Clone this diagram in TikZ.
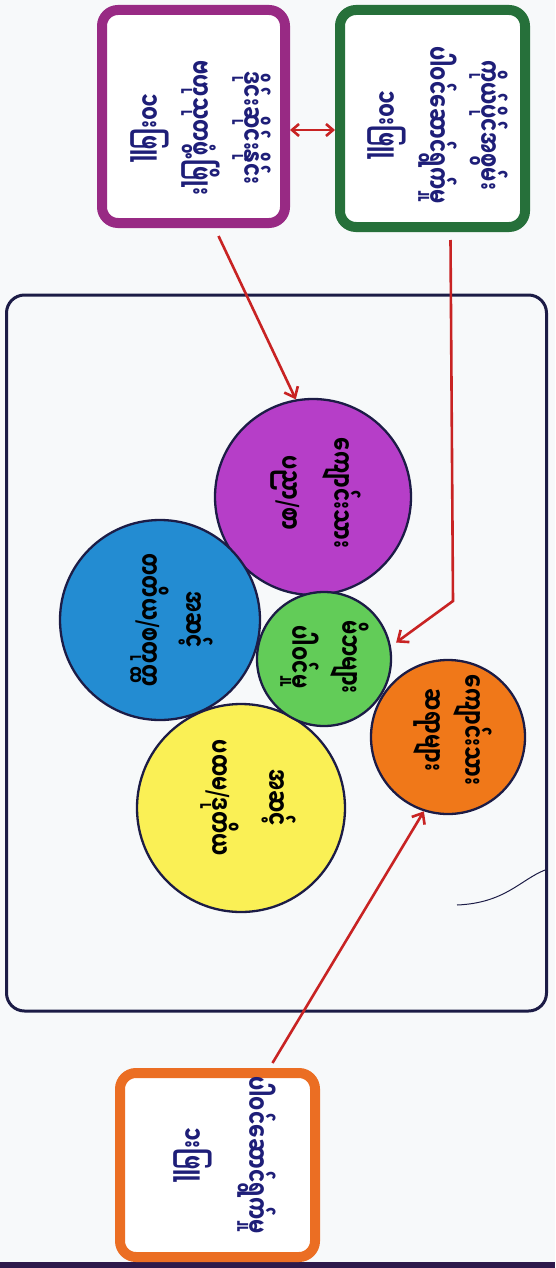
\documentclass[tikz,border=0pt]{standalone}
\usepackage{fontspec}
\usepackage{graphicx}
\newfontfamily\mym[Script=Myanmar]{Noto Sans Myanmar UI}
\newfontfamily\lat{DejaVu Sans}
\usetikzlibrary{arrows.meta}
\definecolor{paper}{RGB}{247,249,250}
\definecolor{band}{RGB}{45,25,75}
\definecolor{ink}{RGB}{28,28,70}
\definecolor{txt}{RGB}{30,30,120}
\definecolor{pboxc}{RGB}{152,42,132}
\definecolor{gboxc}{RGB}{38,112,58}
\definecolor{oboxc}{RGB}{235,110,35}
\definecolor{arrowred}{RGB}{200,35,35}
\definecolor{cpurple}{RGB}{182,62,200}
\definecolor{cblue}{RGB}{35,140,210}
\definecolor{cgreen}{RGB}{98,204,88}
\definecolor{corange}{RGB}{240,120,25}
\definecolor{cyellow}{RGB}{250,240,85}
\newcommand{\myslash}{{\lat /}}
\newcommand{\tall}[1]{\scalebox{1}[1.45]{#1}}
\tikzset{
  boxnode/.style={draw=#1, rounded corners=16pt, line width=10pt, fill=white, inner sep=0pt},
  circ/.style={circle, draw=ink, line width=2.3pt, inner sep=0pt, fill=#1},
  lbl/.style={rotate=-90, align=center, text=txt, inner sep=0pt},
  arr/.style={draw=arrowred, line width=2.6pt, -{Straight Barb[length=9pt,width=15pt]}},
  darr/.style={draw=arrowred, line width=2.6pt, {Straight Barb[length=7pt,width=12pt]}-{Straight Barb[length=7pt,width=12pt]}}
}
\begin{document}
\begin{tikzpicture}[x=1pt,y=-1pt]
\useasboundingbox (0,0) rectangle (555,1268);
\fill[paper] (0,0) rectangle (555,1268);
\fill[band] (0,1262) rectangle (555,1268);

% outer frame
\node[draw=ink, line width=3pt, rounded corners=18pt, minimum width=540pt, minimum height=716pt, inner sep=0pt] (frame) at (276.5,653) {};
% stray pen mark
\draw[ink, line width=1pt] (545,870) .. controls (520,880) and (505,903) .. (457,905);

% boxes
\node[boxnode=pboxc, minimum width=183pt, minimum height=213pt] (pbox) at (193.5,116.5) {};
\node[boxnode=gboxc, minimum width=185pt, minimum height=217pt] (gbox) at (432.5,118.5) {};
\node[boxnode=oboxc, minimum width=195pt, minimum height=184pt] (obox) at (217.5,1165) {};

\node[lbl, font={\mym\bfseries\fontsize{20}{51}\selectfont}] (ptext) at (201,128) {\tall{ဒိုင်းဆိုင်းနိုင်း}\\\tall{ဗဟုသုတဖွံ့ဖြိုး}\\\tall{၁၀းဖြူ}};
\node[lbl, font={\mym\bfseries\fontsize{20}{51}\selectfont}] (gtext) at (438,125) {\tall{ကိုယ်ပိုင်အစွမ်း}\\\tall{ပါဝင်ဆောင်ရွက်မှု}\\\tall{၁၀းဖြူ}};
\node[lbl, font={\mym\bfseries\fontsize{20}{64}\selectfont}] (otext) at (225,1155) {\tall{ပါဝင်ဆောင်ရွက်မှု}\\\tall{၁းဖြူ}};

% circles
\node[circ=cpurple, minimum size=196pt] (pcirc) at (313,497) {};
\node[circ=cblue, minimum size=200pt] (bcirc) at (160,620) {};
\node[circ=cyellow, minimum size=208pt] (ycirc) at (241,808) {};
\node[circ=cgreen, minimum size=134pt] (gcirc) at (324,659) {};
\node[circ=corange, minimum size=154pt] (ocirc) at (448,737) {};

\node[lbl, text=black, font={\mym\bfseries\fontsize{20}{52}\selectfont}] (pt) at (316,493) {\tall{ကျောင်းသား}\\\tall{ပညာ\myslash စာ}};
\node[lbl, text=black, font={\mym\bfseries\fontsize{20}{44}\selectfont}] (bt) at (172,620) {\tall{အဆင့်}\\\tall{တတိယ\myslash စတုတ္ထ}};
\node[lbl, text=black, font={\mym\bfseries\fontsize{20}{57}\selectfont}] (yt) at (248,798) {\tall{အဆင့်}\\\tall{ပထမ\myslash ဒုတိယ}};
\node[lbl, text=black, font={\mym\bfseries\fontsize{20}{50}\selectfont}] (gt) at (325,657) {\tall{မိဘများ}\\\tall{ပါဝင်မှု}};
\node[lbl, text=black, font={\mym\bfseries\fontsize{20}{40}\selectfont}] (ot) at (453,730) {\tall{ကျောင်းသား}\\\tall{ဆရာများ}};

% connectors
\draw[darr] ([yshift=-13.5pt]pbox.east) -- ([yshift=-11.5pt]gbox.west);
\draw[arr] ([xshift=25pt,yshift=-8pt]pbox.south) -- (pcirc.100);
\coordinate (gbend) at (453,601);
\draw[arr] ([xshift=18pt,yshift=-8pt]gbox.south) -- (gbend) -- ([xshift=6pt]gcirc.14);
\draw[arr] ([xshift=55pt,yshift=5pt]obox.north) -- (ocirc.252);
\end{tikzpicture}
\end{document}
